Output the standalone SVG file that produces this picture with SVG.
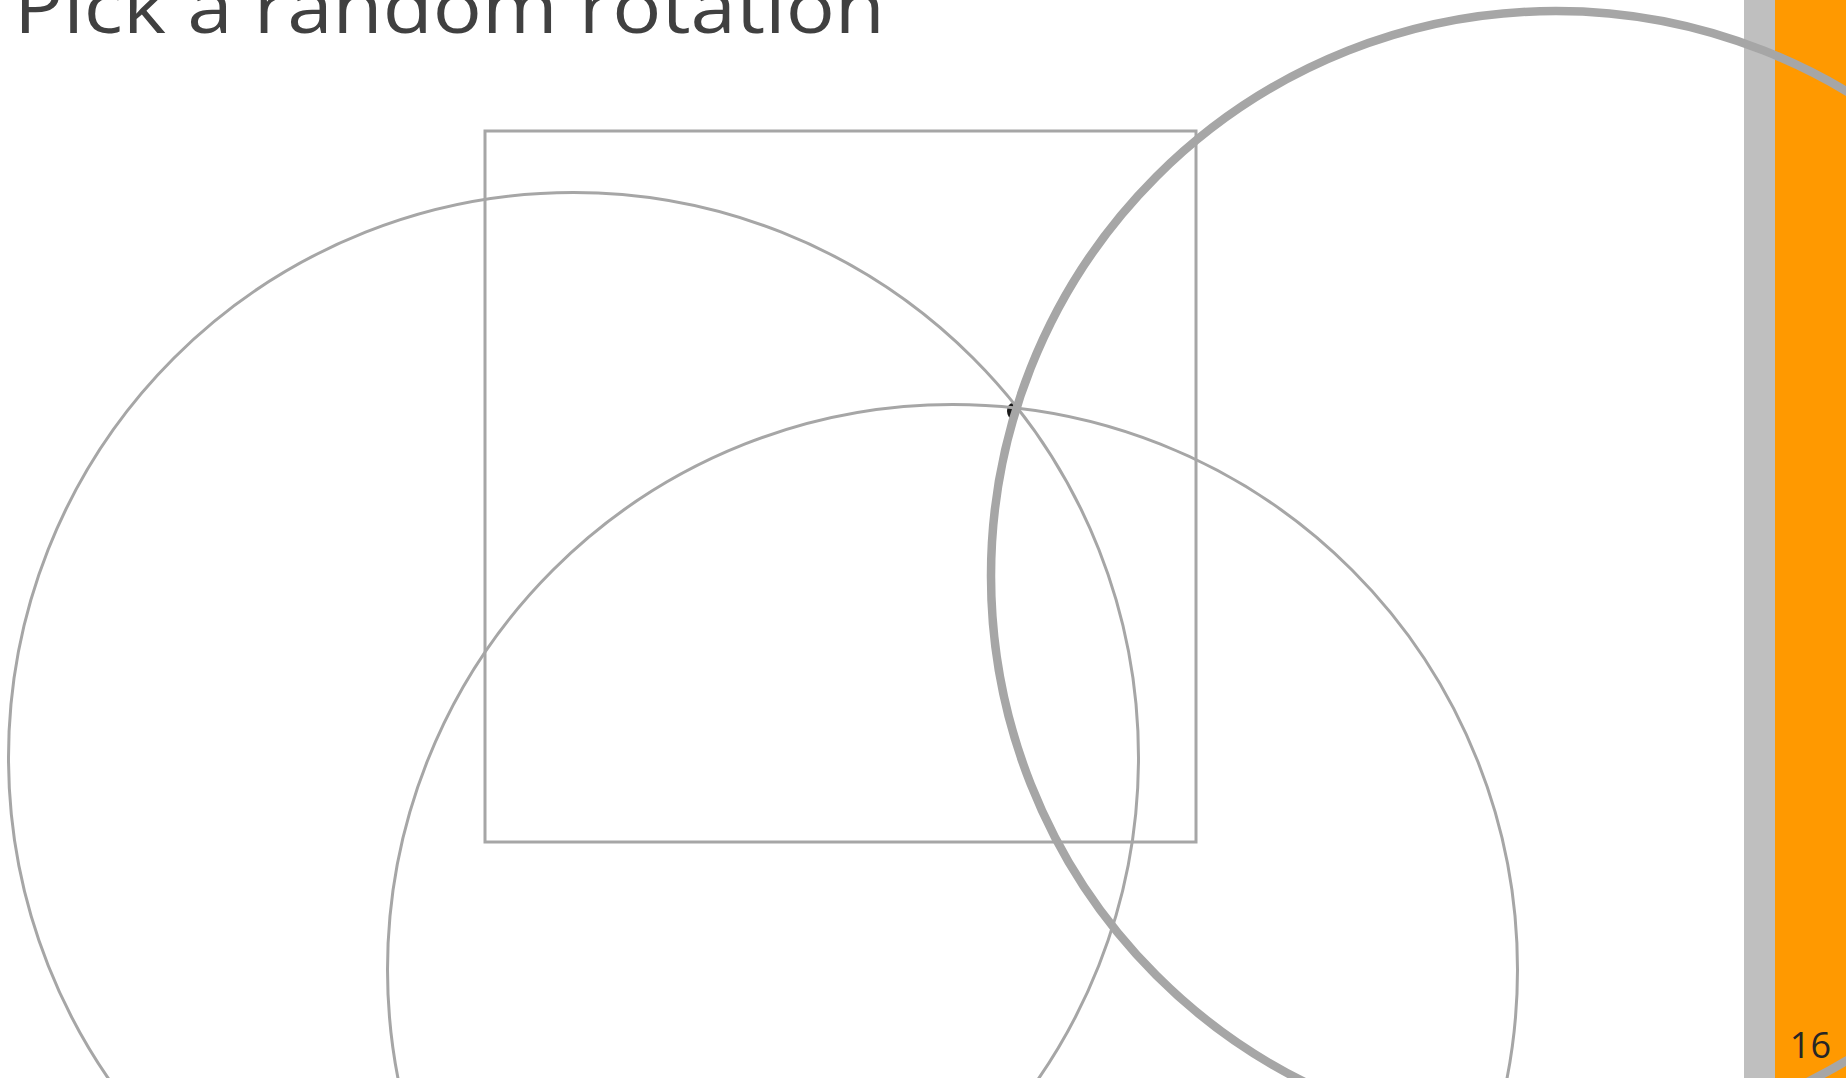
<svg xmlns="http://www.w3.org/2000/svg" width="1846" height="1078" viewBox="0 0 1846 1078">
  <style>
    .thin { fill: none; stroke: #A6A6A6; stroke-width: 3; }
    .thick { fill: none; stroke: #A6A6A6; stroke-width: 8.5; }
    .title { font-family: "Open Sans", "Liberation Sans", sans-serif; fill: #404040; }
    .num { font-family: "Open Sans", "Liberation Sans", sans-serif; fill: #262626; }
  </style>
  <rect x="0" y="0" width="1846" height="1078" fill="#FFFFFF"/>
  <g id="sidebar">
    <rect x="1744" y="0" width="31" height="1078" fill="#BFBFBF"/>
    <rect x="1775" y="0" width="71" height="1078" fill="#FF9900"/>
  </g>
  <g id="title">
    <text class="title" x="14" y="33" font-size="74" textLength="871" lengthAdjust="spacingAndGlyphs">Pick a random rotation</text>
  </g>
  <g id="page-number">
    <text class="num" x="1831" y="1058" font-size="36" text-anchor="end">16</text>
  </g>
  <g id="shapes">
    <rect id="square" class="thin" x="485" y="131" width="711" height="711"/>
    <ellipse id="point" cx="1013" cy="411" rx="6" ry="8" fill="#1A1A1A"/>
    <circle id="circle-1" class="thin" cx="573.5" cy="757.5" r="565"/>
    <circle id="circle-2" class="thin" cx="952.5" cy="969.5" r="565"/>
    <circle id="circle-3" class="thick" cx="1556" cy="576" r="565"/>
  </g>
</svg>
